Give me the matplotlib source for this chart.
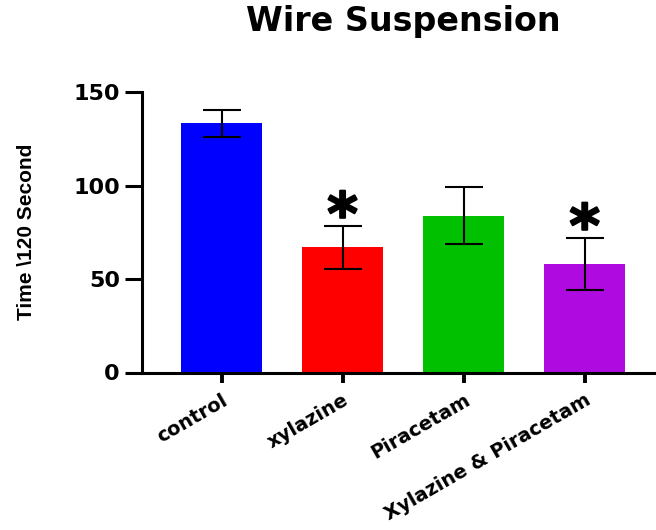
import matplotlib.pyplot as plt
import matplotlib.patheffects as pe

# group names, means and error (SEM)
groups = ['control', 'xylazine', 'Piracetam', 'Xylazine & Piracetam']
means = [133.3, 67.1, 84.0, 58.1]
errors = [7.0, 11.5, 15.1, 14.1]
colors = ['#0000FF', '#FF0000', '#00C000', '#AF0AE0']
significant = [False, True, False, True]

fig = plt.figure(figsize=(6.56, 5.3), dpi=100)
ax = fig.add_axes([142 / 656, 1 - 372.5 / 530, (655 - 142) / 656, (372.5 - 92.3) / 530])

x = range(len(groups))
ax.bar(x, means, width=0.67, color=colors)
ax.errorbar(x, means, yerr=errors, fmt='none', ecolor='black',
            elinewidth=1.5, capsize=14, capthick=1.5)

# significance stars above the error bars
for i, sig in enumerate(significant):
    if sig:
        ax.annotate('*', (i, means[i] + errors[i]), xytext=(0, -6),
                    textcoords='offset points', ha='center', va='baseline',
                    fontsize=42, fontweight='bold',
                    path_effects=[pe.withStroke(linewidth=1.5, foreground='black')])

ax.set_xlim(-0.657, 3.58)
ax.set_ylim(0, 150)
ax.set_yticks([0, 50, 100, 150])
ax.set_xticks(list(x))
ax.set_xticklabels(groups, rotation=30, ha='right', va='top',
                   rotation_mode='anchor', fontsize=14, fontweight='bold')
for lab in ax.get_yticklabels():
    lab.set_fontsize(16)
    lab.set_fontweight('bold')

ax.spines['top'].set_visible(False)
ax.spines['right'].set_visible(False)
ax.spines['left'].set_linewidth(2.2)
ax.spines['bottom'].set_linewidth(2.2)
ax.tick_params(axis='y', length=12, width=2.2, pad=4)
ax.tick_params(axis='x', length=7, width=2.8, pad=6)

fig.text(27 / 656, 1 - 232 / 530, 'Time \\120 Second', rotation=90,
         ha='center', va='center', fontsize=15, fontweight='bold',
         family='Liberation Sans')
fig.text(403 / 656, 1 - 22 / 530, 'Wire Suspension', ha='center', va='center',
         fontsize=24, fontweight='bold')

fig.savefig('out.png', dpi=100)
